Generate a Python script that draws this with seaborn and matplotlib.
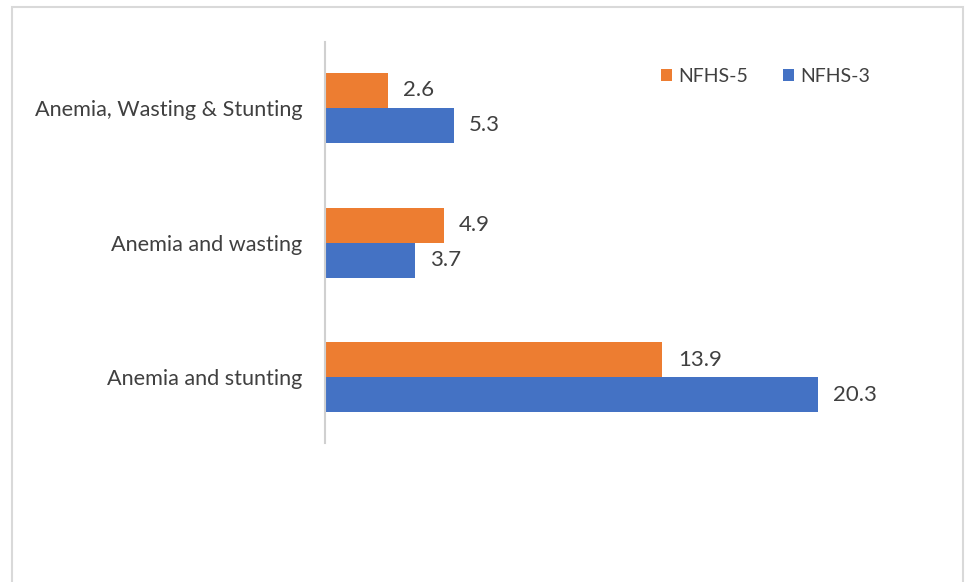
import matplotlib
matplotlib.use("Agg")
import matplotlib.pyplot as plt
import seaborn as sns
import pandas as pd
from matplotlib.patches import Rectangle

categories = ["Anemia, Wasting & Stunting", "Anemia and wasting", "Anemia and stunting"]
nfhs5 = [2.6, 4.9, 13.9]
nfhs3 = [5.3, 3.7, 20.3]
series = ["NFHS-5", "NFHS-3"]
colors = ["#ED7D31", "#4472C4"]

df = pd.DataFrame({
    "category": categories * 2,
    "value": nfhs5 + nfhs3,
    "series": [series[0]] * 3 + [series[1]] * 3,
})

sns.set_theme(style="white")
plt.rcParams['font.family'] = ['Lato', 'DejaVu Sans']

fig = plt.figure(figsize=(9.66, 5.82), dpi=100)
ax = fig.add_axes([0.3364, 0.2388, 0.6284, 0.689])

sns.barplot(data=df, y="category", x="value", hue="series", order=categories,
            hue_order=series, palette=colors, orient="h", width=0.52,
            saturation=1, linewidth=0, ax=ax, legend=True)

for cont in ax.containers:
    ax.bar_label(cont, fmt="%.1f", padding=11, fontsize=16, color="#404040")

ax.set_xlim(0, 25)
ax.set_ylim(2.49, -0.49)
ax.set_xlabel("")
ax.set_ylabel("")
ax.set_xticks([])
ax.tick_params(axis="y", length=0, pad=16, labelsize=15.6, labelcolor="#404040")
for s in ["top", "right", "bottom"]:
    ax.spines[s].set_visible(False)
ax.spines["left"].set_color("#D0D0D0")
ax.spines["left"].set_linewidth(1.5)

leg = ax.legend(loc="center right", bbox_to_anchor=(0.898, 0.915), ncol=2, frameon=False,
                fontsize=14, handlelength=0.55, handleheight=0.55, handletextpad=0.33,
                columnspacing=1.8, borderpad=0, borderaxespad=0, labelcolor="#404040")

fig.patches.append(Rectangle((12 / 966, -0.05), (963 - 12) / 966, 1.05 - 7 / 582,
                             transform=fig.transFigure, fill=False,
                             edgecolor="#D9D9D9", linewidth=1.5))

fig.savefig("out.png", dpi=100, facecolor="white")
